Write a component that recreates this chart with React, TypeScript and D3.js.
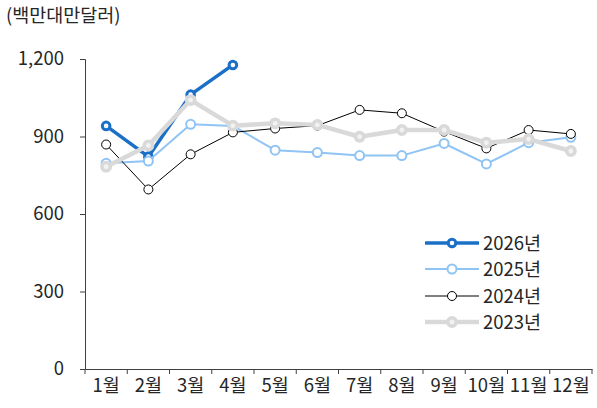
import React, { useEffect, useRef } from "react";
import * as d3 from "d3";

const months = ["1월", "2월", "3월", "4월", "5월", "6월", "7월", "8월", "9월", "10월", "11월", "12월"];
const yTicks = [0, 300, 600, 900, 1200];

const y2026 = [941, 822, 1062, 1177];
const y2025 = [796, 805, 947, 941, 847, 838, 826, 826, 873, 794, 876, 897];
const y2024 = [869, 695, 831, 916, 931, 942, 1003, 990, 919, 854, 925, 910];
const y2023 = [783, 865, 1041, 942, 951, 945, 899, 925, 925, 876, 890, 844];

const seriesNames = ["2026년", "2025년", "2024년", "2023년"];

const FONT = "'Noto Sans CJK KR', 'Noto Sans', sans-serif";
const FS = "18.5px";

export default function App() {
  const ref = useRef<SVGSVGElement>(null);

  useEffect(() => {
    const width = 597;
    const height = 408;
    const left = 85, right = 592, top = 59, bottom = 369;

    const svg = d3.select(ref.current);
    svg.selectAll("*").remove();

    const x = d3.scaleBand().domain(months).range([left, right]);
    const y = d3.scaleLinear().domain([0, 1200]).range([bottom, top]);

    // axes
    const xAxis = svg.append("g")
      .attr("transform", `translate(0, ${bottom})`)
      .call(d3.axisBottom(x).tickSize(0).tickPadding(10));
    xAxis.select(".domain").attr("stroke", "#404040");
    xAxis.selectAll("text").style("font-family", FONT).style("font-size", FS).attr("fill", "#262626");
    // x ticks at band edges
    const edges = months.map(m => x(m) as number).concat([right]);
    svg.append("g").selectAll("line").data(edges).join("line")
      .attr("x1", d => d).attr("x2", d => d)
      .attr("y1", bottom).attr("y2", bottom + 5)
      .attr("stroke", "#404040");

    const yAxis = svg.append("g")
      .attr("transform", `translate(${left}, 0)`)
      .call(d3.axisLeft(y).tickValues(yTicks).tickSize(5).tickPadding(16).tickFormat(d3.format(",")));
    yAxis.select(".domain").attr("stroke", "#404040");
    yAxis.selectAll(".tick line").attr("stroke", "#404040");
    yAxis.selectAll("text").style("font-family", FONT).style("font-size", FS).attr("fill", "#262626");

    svg.append("text")
      .attr("x", 6).attr("y", 22)
      .style("font-family", FONT).style("font-size", FS).attr("fill", "#262626")
      .text("(백만대만달러)");

    const styles = [
      { data: y2026, color: "#1b6fc6", lw: 3.5, r: 3.8, mw: 3, fill: "#ffffff" },
      { data: y2025, color: "#8fc4f4", lw: 2, r: 4.5, mw: 2, fill: "#ffffff" },
      { data: y2024, color: "#000000", lw: 1, r: 4.5, mw: 1, fill: "#ffffff" },
      { data: y2023, color: "#d9d9d9", lw: 4.5, r: 4.2, mw: 3.5, fill: "#f2f2f2" },
    ];

    const line = d3.line<number>()
      .x((_, i) => (x(months[i]) as number) + x.bandwidth() / 2)
      .y(d => y(d));

    styles.forEach(s => {
      const g = svg.append("g");
      g.append("path").datum(s.data).attr("d", line)
        .attr("fill", "none").attr("stroke", s.color).attr("stroke-width", s.lw)
        .attr("stroke-linejoin", "round");
      g.selectAll("circle").data(s.data).join("circle")
        .attr("cx", (_, i) => (x(months[i]) as number) + x.bandwidth() / 2)
        .attr("cy", d => y(d))
        .attr("r", s.r)
        .attr("fill", s.fill).attr("stroke", s.color).attr("stroke-width", s.mw);
    });

    // legend
    const legY = [243, 269, 296, 322];
    styles.forEach((s, i) => {
      const g = svg.append("g");
      g.append("line").attr("x1", 425).attr("x2", 479).attr("y1", legY[i]).attr("y2", legY[i])
        .attr("stroke", s.color).attr("stroke-width", s.lw);
      g.append("circle").attr("cx", 452).attr("cy", legY[i]).attr("r", s.r)
        .attr("fill", s.fill).attr("stroke", s.color).attr("stroke-width", s.mw);
      g.append("text").attr("x", 483).attr("y", legY[i]).attr("dy", "0.36em")
        .style("font-family", FONT).style("font-size", FS).attr("fill", "#262626")
        .text(seriesNames[i]);
    });

    svg.attr("width", width).attr("height", height);
  }, []);

  return <svg ref={ref} width={597} height={408} style={{ position: "absolute", left: 0, top: 0, background: "#fff" }} />;
}
